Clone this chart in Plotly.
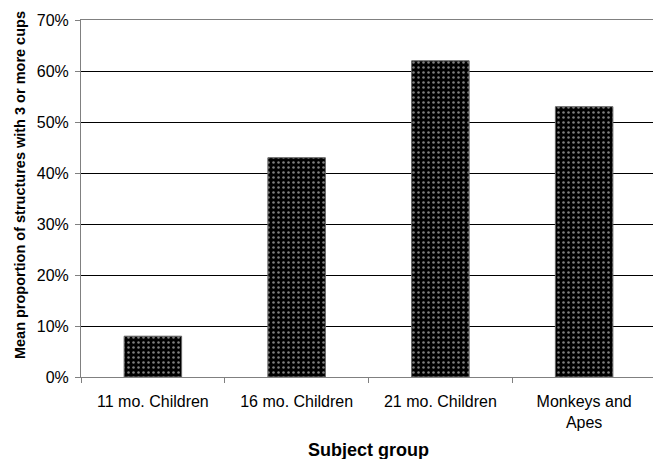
import plotly.graph_objects as go

categories = ["11 mo. Children", "16 mo. Children", "21 mo. Children", "Monkeys and<br>Apes"]
values = [0.08, 0.43, 0.62, 0.53]
y_ticks = [0, 0.1, 0.2, 0.3, 0.4, 0.5, 0.6, 0.7]
y_tick_labels = ["0%", "10%", "20%", "30%", "40%", "50%", "60%", "70%"]

FONT = "Liberation Sans, Arial, Helvetica, sans-serif"

fig = go.Figure(go.Bar(
    x=categories, y=values,
    marker=dict(color="black", line=dict(color="#666666", width=1),
                pattern=dict(shape=".", bgcolor="black", fgcolor="white", size=5, solidity=0.2)),
    width=0.4,
))

fig.update_layout(
    width=653, height=451,
    margin=dict(l=73, r=4, t=10, b=82),
    paper_bgcolor="white", plot_bgcolor="white",
    font=dict(family=FONT, color="black", size=16),
    showlegend=False,
    annotations=[
        dict(text="<b>Mean proportion of structures with 3 or more cups</b>",
             xref="paper", yref="paper", x=0, y=0.5376, xshift=-61,
             xanchor="center", yanchor="middle", textangle=-90,
             showarrow=False, font=dict(size=14.5, family=FONT, color="black")),
        dict(text="<b>Subject group</b>",
             xref="paper", yref="paper", x=0.5, y=0, yshift=-73,
             xanchor="center", yanchor="middle",
             showarrow=False, font=dict(size=18, family=FONT, color="black")),
    ],
)
fig.update_xaxes(
    showline=True, linecolor="#808080", linewidth=1, mirror=True,
    ticks="outside", tickson="boundaries", ticklen=5, tickcolor="#808080",
    showgrid=False, ticklabelstandoff=10,
    tickfont=dict(size=16),
)
fig.update_yaxes(
    range=[0, 0.7], tickvals=y_ticks, ticktext=y_tick_labels,
    showline=True, linecolor="#808080", linewidth=1, mirror=True,
    ticks="outside", ticklen=5, tickcolor="#808080",
    showgrid=True, gridcolor="black", gridwidth=1, zeroline=False,
    ticklabelstandoff=3,
    tickfont=dict(size=16),
)

fig.write_html("out.html")
